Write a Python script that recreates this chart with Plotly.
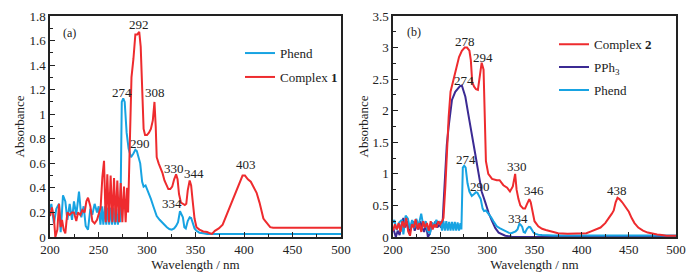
import plotly.graph_objects as go

# ---------------- data ----------------
phend_wl = [200, 201.4, 204, 206.5, 209.3, 211, 213.4, 215.8, 217.9, 220.3, 222.7, 224.7, 227.1, 229.9,
            232.3, 234.7, 236.8, 239.2, 241.6, 243.6, 246, 248.5, 250.2, 252, 253.5, 255, 256.5, 258,
            259.5, 261, 262.5, 264, 265.5, 267, 268.5, 270, 271.5, 272.5, 274, 275.5, 277, 279, 281,
            283.5, 286, 288, 289.5, 291, 293, 295, 296.5, 298.5, 300, 302, 304, 306.5, 308, 310, 313,
            316, 318, 320.5, 323, 325.5, 328, 330, 332, 334, 335.5, 337, 338.5, 340, 342, 344, 345.5,
            347, 349, 351, 354, 358, 362, 370, 400, 450, 500]
phend_abs = [0.22, 0.27, 0.11, 0.23, 0.27, 0.04, 0.34, 0.29, 0.14, 0.27, 0.14, 0.29, 0.18, 0.37,
             0.16, 0.25, 0.09, 0.06, 0.23, 0.18, 0.27, 0.2, 0.25, 0.1, 0.25, 0.1, 0.25, 0.1,
             0.24, 0.1, 0.24, 0.1, 0.24, 0.1, 0.23, 0.1, 0.22, 0.12, 1.1, 1.13, 1.1, 0.85, 0.72,
             0.65, 0.68, 0.71, 0.70, 0.66, 0.6, 0.45, 0.41, 0.42, 0.39, 0.36, 0.31, 0.25, 0.22, 0.17, 0.14,
             0.12, 0.1, 0.08, 0.065, 0.06, 0.07, 0.09, 0.12, 0.21, 0.19, 0.16, 0.08, 0.07, 0.13, 0.16, 0.155,
             0.12, 0.07, 0.05, 0.035, 0.03, 0.025, 0.025, 0.025, 0.025, 0.025]

c1_wl = [200, 202, 204.1, 205.5, 207.6, 209.3, 211, 212.4, 214.1, 215.8, 217.9, 220.3, 222.7, 224.7,
         227.1, 228.9, 231.3, 233.3, 235.7, 237.5, 239.2, 241.6, 243.6, 246, 248.5, 250.2, 252.2, 254,
         255.7, 257.4, 259.1, 260.8, 262.5, 264.3, 266, 267.7, 269.4, 271.1, 272.9, 274.6, 276.3, 278,
         279.5, 280.5, 282, 284, 286, 288, 290, 292, 293.5, 295, 296.5, 298, 300, 302, 304, 306, 307.7,
         309, 310, 312, 314, 316, 318, 320, 322, 324, 326, 328, 330, 331.5, 333, 335, 337, 339, 340.5,
         342, 344, 345.5, 347, 349, 351, 354, 358, 362, 365, 367, 370, 374, 378, 381, 384, 387, 390,
         393, 396, 398.5, 401, 404, 407, 410, 413, 416, 418, 420, 422, 424, 427, 430, 500]
c1_abs = [0.17, 0.24, 0.15, 0.0, 0.06, 0.27, 0.08, 0.14, 0.06, 0.03, 0.2, 0.18, 0.2, 0.2,
          0.13, 0.2, 0.18, 0.22, 0.2, 0.29, 0.32, 0.25, 0.13, 0.11, 0.14, 0.18, 0.24, 0.49,
          0.62, 0.12, 0.51, 0.12, 0.5, 0.12, 0.48, 0.12, 0.46, 0.12, 0.44, 0.12, 0.41, 0.12,
          0.4, 0.2, 0.7, 1.3, 1.45, 1.65, 1.65, 1.67, 1.55, 1.2, 0.88, 0.83, 0.83, 0.85, 0.88, 0.95, 1.1,
          0.9, 0.65, 0.6, 0.56, 0.52, 0.46, 0.42, 0.39, 0.39, 0.41, 0.47, 0.51, 0.47, 0.35, 0.28, 0.27, 0.26, 0.27,
          0.38, 0.46, 0.42, 0.3, 0.15, 0.08, 0.06, 0.045, 0.04, 0.03, 0.025, 0.05, 0.07, 0.1, 0.16, 0.22, 0.27, 0.33,
          0.4, 0.46, 0.5, 0.5, 0.47, 0.45, 0.41, 0.36, 0.28, 0.2, 0.15, 0.13, 0.11, 0.08, 0.075, 0.075]

c2_wl = [200, 202, 204, 206, 208, 210, 212, 214, 216, 218, 220, 222, 224, 226, 228, 230, 232, 234, 236,
         238, 240, 242, 244, 246, 248, 250, 252, 253.5, 255.5, 257, 259, 261, 264, 267, 270, 273, 276,
         278.5, 281, 282.5, 284, 286, 288, 290, 292, 294, 296, 297.5, 298.5, 301, 305, 310, 313, 317,
         321, 324, 327, 329.5, 331, 333, 335, 338, 340, 342, 344.5, 346, 348, 350, 354, 358, 362, 368,
         375, 385, 400, 405, 410, 415, 420, 425, 429, 432, 434, 436, 438, 440, 443, 446, 450, 453, 456,
         460, 465, 470, 475, 480, 485, 490, 500]
c2_abs = [0.1, 0.2, 0.12, 0.22, 0.08, 0.25, 0.15, 0.3, 0.1, 0.02, 0.2, 0.15, 0.28, 0.12, 0.22, 0.08, 0.25, 0.15, 0.22,
          0.1, 0.25, 0.12, 0.2, 0.15, 0.25, 0.2, 0.25, 0.3, 0.8, 1.4, 1.9, 2.3, 2.5, 2.7, 2.85, 2.95, 3.0,
          3.0, 2.95, 2.8, 2.45, 2.38, 2.34, 2.33, 2.55, 2.76, 2.65, 1.8, 1.2, 1.0, 0.92, 0.9, 0.9, 0.82,
          0.78, 0.72, 0.8, 1.0, 0.75, 0.6, 0.5, 0.45, 0.45, 0.52, 0.6, 0.55, 0.4, 0.25, 0.17, 0.13, 0.11, 0.09,
          0.06, 0.05, 0.05, 0.06, 0.09, 0.12, 0.15, 0.22, 0.3, 0.37, 0.42, 0.55, 0.62, 0.6, 0.55, 0.48, 0.4, 0.3, 0.22,
          0.15, 0.1, 0.07, 0.05, 0.04, 0.03, 0.02, 0.02]

pph3_wl = [200, 201.5, 203, 205, 207, 209, 211, 213, 215, 217, 219, 221, 223, 225, 227, 229, 231, 233, 235,
           237, 239, 241, 243, 245, 247, 249, 251, 252.5, 253.5, 255, 257, 259, 262.5, 266, 269, 271, 273,
           275, 276.7, 280, 283.7, 287, 290.8, 294, 298, 301.4, 305, 308.5, 312, 316, 319, 326, 350, 500]
pph3_abs = [0.15, 0.05, 0.0, 0.1, 0.03, 0.2, 0.3, 0.15, 0.25, 0.05, 0.15, 0.25, 0.1, 0.2, 0.12, 0.25, 0.15, 0.08, 0.2,
            0.0, 0.05, 0.2, 0.15, 0.25, 0.15, 0.2, 0.15, 0.2, 0.5, 1.0, 1.45, 1.75, 2.17, 2.3, 2.36, 2.39, 2.4,
            2.32, 2.22, 1.93, 1.64, 1.33, 1.0, 0.72, 0.54, 0.38, 0.25, 0.14, 0.07, 0.035, 0.02, 0.005, 0.0, 0.0]

# peak labels
a_lab_x = [274, 292, 308.4, 293, 328, 348.6, 325.6, 402]
a_lab_y = [1.18, 1.73, 1.18, 0.76, 0.555, 0.52, 0.27, 0.587]
a_lab_t = ["274", "292", "308", "290", "330", "344", "334", "403"]
b_lab_x = [276, 295, 275, 277.4, 291.9, 331.4, 349.8, 333, 437]
b_lab_y = [3.09, 2.84, 2.48, 1.22, 0.8, 1.12, 0.74, 0.29, 0.74]
b_lab_t = ["278", "294", "274", "274", "290", "330", "346", "334", "438"]

RED = "#ee2b2e"
BLUE = "#17a3e2"
PURPLE = "#3b2a93"
FONT = "Liberation Serif"

# the page body adds an 8 px offset, so the figure is 8 px smaller
W, H = 690, 270
OFF = 8

fig = go.Figure()
# panel (a)
fig.add_trace(go.Scatter(x=phend_wl, y=phend_abs, mode="lines", name="Phend",
                         line=dict(color=BLUE, width=2), xaxis="x", yaxis="y",
                         legend="legend", legendgroup="a1"))
fig.add_trace(go.Scatter(x=c1_wl, y=c1_abs, mode="lines", name="Complex <b>1</b>",
                         line=dict(color=RED, width=2), xaxis="x", yaxis="y",
                         legend="legend", legendgroup="a2"))
# panel (b)
fig.add_trace(go.Scatter(x=pph3_wl, y=pph3_abs, mode="lines", name="PPh<sub>3</sub>",
                         line=dict(color=PURPLE, width=2), xaxis="x2", yaxis="y2",
                         legend="legend2", legendgroup="b2", legendrank=2))
fig.add_trace(go.Scatter(x=phend_wl, y=phend_abs, mode="lines", name="Phend",
                         line=dict(color=BLUE, width=2), xaxis="x2", yaxis="y2",
                         legend="legend2", legendgroup="b3", legendrank=3))
fig.add_trace(go.Scatter(x=c2_wl, y=c2_abs, mode="lines", name="Complex <b>2</b>",
                         line=dict(color=RED, width=2), xaxis="x2", yaxis="y2",
                         legend="legend2", legendgroup="b1", legendrank=1))

ann = []
for x, y, t in zip(a_lab_x, a_lab_y, a_lab_t):
    ann.append(dict(x=x, y=y, xref="x", yref="y", text=t, showarrow=False,
                    font=dict(family=FONT, size=13, color="#222")))
for x, y, t in zip(b_lab_x, b_lab_y, b_lab_t):
    ann.append(dict(x=x, y=y, xref="x2", yref="y2", text=t, showarrow=False,
                    font=dict(family=FONT, size=13, color="#222")))
ann.append(dict(x=220, y=1.665, xref="x", yref="y", text="(a)", showarrow=False,
                font=dict(family=FONT, size=12, color="#222")))
ann.append(dict(x=222, y=3.24, xref="x2", yref="y2", text="(b)", showarrow=False,
                font=dict(family=FONT, size=12, color="#222")))
# y-axis titles
ann.append(dict(x=(19 - OFF) / W, y=0.5, xref="paper", yref="paper", text="Absorbance",
                textangle=-90, showarrow=False, xanchor="center", yanchor="middle",
                font=dict(family=FONT, size=13, color="#222")))
ann.append(dict(x=(363 - OFF) / W, y=0.5, xref="paper", yref="paper", text="Absorbance",
                textangle=-90, showarrow=False, xanchor="center", yanchor="middle",
                font=dict(family=FONT, size=13, color="#222")))

axis_common = dict(showline=True, mirror=True, linecolor="#222", linewidth=1.5,
                   ticks="inside", ticklen=5, tickwidth=1.2, tickcolor="#222",
                   showgrid=False, zeroline=False, automargin=False,
                   tickfont=dict(family=FONT, size=13, color="#222"))
xminor = dict(ticks="inside", ticklen=3, dtick=25, tickcolor="#222", tickwidth=1)

fig.update_layout(
    width=W, height=H,
    margin=dict(l=0, r=0, t=16 - OFF, b=41),
    paper_bgcolor="white", plot_bgcolor="white",
    font=dict(family=FONT, size=13, color="#222"),
    xaxis=dict(domain=[(50 - OFF) / W, (341 - OFF) / W], range=[200, 500], dtick=50, tick0=200,
               title=dict(text="Wavelength / nm", standoff=4, font=dict(family=FONT, size=13)),
               minor=xminor, anchor="y", **axis_common),
    yaxis=dict(domain=[0, 1], range=[0, 1.8], dtick=0.2,
               minor=dict(ticks="inside", ticklen=3, dtick=0.1, tickcolor="#222", tickwidth=1),
               anchor="x", **axis_common),
    xaxis2=dict(domain=[(393 - OFF) / W, (676 - OFF) / W], range=[200, 500], dtick=50, tick0=200,
                title=dict(text="Wavelength / nm", standoff=4, font=dict(family=FONT, size=13)),
                minor=xminor, anchor="y2", **axis_common),
    yaxis2=dict(domain=[0, 1], range=[0, 3.5], dtick=0.5,
                minor=dict(ticks="inside", ticklen=3, dtick=0.25, tickcolor="#222", tickwidth=1),
                anchor="x2", **axis_common),
    legend=dict(x=(240 - OFF) / W, y=0.90, xanchor="left", yanchor="top", bgcolor="rgba(0,0,0,0)",
                font=dict(family=FONT, size=13, color="#222"), tracegroupgap=4,
                itemwidth=30),
    legend2=dict(x=(554 - OFF) / W, y=0.94, xanchor="left", yanchor="top", bgcolor="rgba(0,0,0,0)",
                 font=dict(family=FONT, size=13, color="#222"), tracegroupgap=3,
                 itemwidth=30),
    annotations=ann,
    showlegend=True,
)

fig.write_html("out.html")
